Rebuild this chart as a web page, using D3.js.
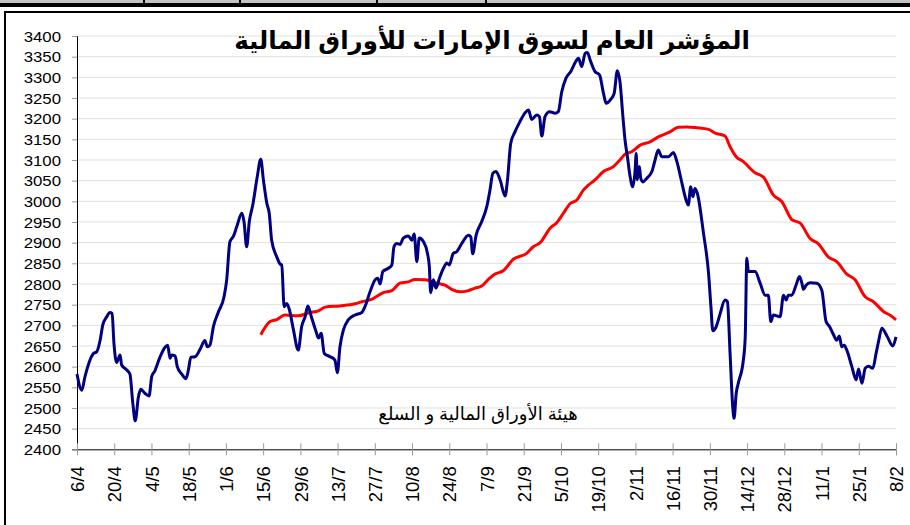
<!DOCTYPE html>
<html>
<head>
<meta charset="utf-8">
<script src="https://cdn.jsdelivr.net/npm/d3@7"></script>
<style>
  body { margin: 0; background: #fff; }
  svg { display: block; }
</style>
</head>
<body>
<div id="chart"></div>
<script>
// x tick labels (every 14 days from 6/4)
const tickLabels = ["6/4","20/4","4/5","18/5","1/6","15/6","29/6","13/7","27/7","10/8","24/8",
  "7/9","21/9","5/10","19/10","2/11","16/11","30/11","14/12","28/12","11/1","25/1","8/2"];

// index: day offset from 6/4 and value
const indexDays = [0,1.8,3,6.1,7.4,8.7,9.7,11.2,12.4,13.2,13.9,14.9,16.2,16.8,18.7,19.9,21,21.9,23.1,24,
  25.6,27.1,28.1,29.3,31.2,33.1,34.1,35,35.6,36.9,37.7,39.4,41,41.9,42.8,44.4,46.3,48.1,49,50,
  51.3,53.1,55.3,56.3,57.5,58.8,60.1,62,62.8,63.8,64.8,66.1,67.8,69.1,70.1,71.4,72.3,73.2,75.1,76.4,
  77,77.9,78.9,79.9,81.4,83.2,84.5,85.8,86.8,88.3,89.9,90.8,91.8,93,95.2,97,97.9,98.9,100.2,102,
  104.6,107.1,108.3,110.2,112.1,113.1,114,115,117.1,118.4,119.2,120.3,121.5,122.7,124.6,125.9,126.8,127.8,128.7,130.3,
  131.8,132.5,133,134,135,136.3,137.8,139.1,140,141.5,142.8,144.7,147.2,148.1,148.8,150.1,152.2,154.1,155.3,156.4,
  157.6,159.1,161,161.9,163.1,164.7,166.6,168.5,169.8,171,172.9,173.9,174.8,176,177.7,179.8,181,182.3,183.9,185.7,
  187.7,188.6,189.8,191.1,191.9,193.2,194.8,196.5,198,199,200.5,202,203.2,204.2,205.3,206.1,207,208,209,209.9,
  210.3,210.7,211.5,212,212.8,214.3,216.2,217.4,218.6,219.9,222.4,224.3,225.6,227.5,228.7,229.9,230.8,231.6,232.4,233.3,
  235.6,237.5,238.4,239.1,240.4,241.2,241.9,243.7,244.6,245.6,246.6,247.1,247.9,248.7,250.6,251.3,251.9,252.5,253.1,255,
  256.9,258.8,260,260.9,261.9,264.4,265.7,266.7,267.5,268.8,270.4,271.7,272.6,273.2,274.2,275.7,278.2,280.1,281.7,283,
  284.5,285.7,286.7,287.6,288.5,289.5,291.4,293,293.9,295.2,296.4,297.6,299.3,300.5,301.4,302.7,304.6,306.8,308];
const indexValues = [2582,2543,2576,2631,2636,2664,2701,2721,2731,2729,2656,2610,2628,2604,2592,2582,2511,2469,2527,2545,
  2535,2529,2576,2590,2623,2647,2652,2620,2628,2626,2600,2582,2571,2592,2623,2624,2642,2663,2648,2652,
  2697,2731,2769,2810,2902,2915,2939,2971,2951,2890,2951,2991,3060,3102,3052,2995,2971,2906,2866,2848,
  2846,2745,2753,2737,2689,2640,2697,2721,2747,2717,2685,2669,2681,2632,2624,2616,2585,2648,2689,2713,
  2725,2731,2745,2781,2810,2814,2800,2830,2838,2846,2890,2898,2896,2911,2916,2906,2921,2854,2911,2902,
  2874,2842,2779,2810,2790,2814,2838,2851,2846,2874,2878,2898,2918,2914,2873,2918,2951,2987,3027,3068,
  3072,3052,3013,3052,3140,3168,3193,3214,3221,3198,3209,3205,3158,3205,3217,3213,3217,3265,3298,3314,
  3340,3346,3326,3358,3360,3338,3314,3306,3261,3237,3245,3261,3316,3289,3205,3148,3108,3060,3035,3076,
  3116,3052,3084,3056,3047,3056,3072,3100,3124,3108,3108,3118,3096,3044,3011,2991,3035,3011,3031,3019,
  2923,2826,2745,2687,2697,2713,2729,2761,2757,2632,2503,2475,2535,2560,2616,2672,2862,2830,2830,2830,
  2802,2773,2773,2709,2725,2721,2773,2761,2773,2773,2797,2818,2802,2787,2797,2803,2802,2785,2709,2697,
  2677,2664,2674,2648,2652,2640,2600,2568,2594,2560,2596,2601,2596,2632,2660,2693,2674,2650,2672];

// moving average
const avgDays = [69.1,72.6,75.1,78.2,83.2,87.6,90.8,93.3,98.9,104.6,107.1,110.8,115.2,118.4,121.5,124.6,127.1,130.9,135.3,138.4,
  140.9,144.1,147.2,149.7,152.2,154.7,157.2,160.3,164.1,169.1,171.6,174.2,177.9,180.4,182.9,185.4,188,190.4,192.3,194.8,
  198,201.7,204.2,206.1,208.6,211.8,215.5,218.6,222.4,226.2,229.3,233.1,237.5,240,243.7,245.6,247.9,250.6,255,258.2,
  261.9,265.1,268.8,272,275.7,278.8,282.6,285.7,289.5,292.6,296.4,299.5,303.4,306.1,308];
const avgValues = [2677,2709,2714,2725,2723,2731,2735,2744,2747,2752,2757,2763,2779,2784,2802,2805,2811,2810,2802,2797,
  2787,2781,2784,2790,2795,2811,2824,2832,2860,2874,2890,2900,2935,2948,2971,2994,3003,3027,3039,3052,
  3072,3084,3100,3114,3120,3136,3144,3156,3166,3179,3180,3178,3174,3165,3158,3132,3108,3096,3069,3058,
  3015,2999,2956,2947,2910,2897,2865,2854,2824,2810,2769,2757,2733,2723,2713];

const yTicks = d3.range(2400, 3401, 50);

const W = 910, H = 525;
const margin = { left: 77, right: 14, top: 36, bottom: 75.7 };

const svg = d3.select("#chart").append("svg")
  .attr("width", W).attr("height", H);

// page decoration at the very top
svg.append("rect").attr("x", 0).attr("y", 0).attr("width", W).attr("height", 3).attr("fill", "#c4c4c4");
[143, 239, 376, 485].forEach(x => {
  svg.append("rect").attr("x", x).attr("y", 0).attr("width", 2).attr("height", 3).attr("fill", "#000");
});
svg.append("rect").attr("x", 0).attr("y", 3).attr("width", W).attr("height", 4).attr("fill", "#000");

// chart frame
svg.append("rect").attr("x", 5).attr("y", 12).attr("width", 930).attr("height", 540)
  .attr("fill", "none").attr("stroke", "#000").attr("stroke-width", 2);

const x = d3.scaleLinear().domain([0, 308]).range([margin.left, W - margin.right]);
const y = d3.scaleLinear().domain([2400, 3400]).range([H - margin.bottom, margin.top]);

// gridlines
svg.append("g")
  .selectAll("line")
  .data(yTicks.slice(1))
  .join("line")
  .attr("x1", x(0)).attr("x2", x(308))
  .attr("y1", d => y(d)).attr("y2", d => y(d))
  .attr("stroke", "#e0e0e0").attr("stroke-width", 1);

// y axis
const yAxis = svg.append("g")
  .attr("transform", `translate(${x(0)},0)`)
  .call(d3.axisLeft(y).tickValues(yTicks).tickSize(5).tickPadding(0).tickFormat(d3.format("d")));
yAxis.select(".domain").attr("stroke", "#000");
yAxis.selectAll(".tick line").attr("stroke", "#999");
yAxis.selectAll(".tick text")
  .attr("font-family", "'Liberation Sans', Arial, sans-serif")
  .attr("font-size", 14).attr("fill", "#000")
  .attr("x", -13.3).attr("dy", "0.36em")
  .attr("transform", "scale(1.2,1)");

// x axis
const xAxis = svg.append("g")
  .attr("transform", `translate(0,${y(2400)})`)
  .call(d3.axisBottom(x).tickValues(d3.range(0, 309, 14)).tickSize(6).tickSizeOuter(0)
    .tickFormat((d, i) => tickLabels[i]));
xAxis.select(".domain").attr("stroke", "#000");
xAxis.selectAll(".tick line").attr("stroke", "#999").attr("y1", -6).attr("y2", 6);
xAxis.selectAll(".tick text")
  .attr("font-family", "'Liberation Sans', Arial, sans-serif")
  .attr("font-size", 18.5).attr("fill", "#000")
  .attr("text-anchor", "end")
  .attr("transform", "rotate(-90)")
  .attr("x", -17).attr("y", 0).attr("dy", "0.36em");

const line = d3.line().curve(d3.curveMonotoneX);

svg.append("path")
  .attr("d", line(avgDays.map((d, i) => [x(d), y(avgValues[i])])))
  .attr("fill", "none").attr("stroke", "#ff0000").attr("stroke-width", 3)
  .attr("stroke-linejoin", "round");

svg.append("path")
  .attr("d", line(indexDays.map((d, i) => [x(d), y(indexValues[i])])))
  .attr("fill", "none").attr("stroke", "#000080").attr("stroke-width", 3)
  .attr("stroke-linejoin", "round");

// title
svg.append("text")
  .attr("x", 492).attr("y", 49)
  .attr("text-anchor", "middle")
  .attr("font-family", "Arial, 'DejaVu Sans', sans-serif")
  .attr("font-weight", "bold").attr("font-size", 24.5)
  .attr("direction", "rtl")
  .text("المؤشر العام لسوق الإمارات للأوراق المالية");

// source note
svg.append("text")
  .attr("x", 478).attr("y", 420)
  .attr("text-anchor", "middle")
  .attr("font-family", "Arial, 'DejaVu Sans', sans-serif")
  .attr("font-size", 18)
  .attr("direction", "rtl")
  .text("هيئة الأوراق المالية و السلع");
</script>
</body>
</html>
